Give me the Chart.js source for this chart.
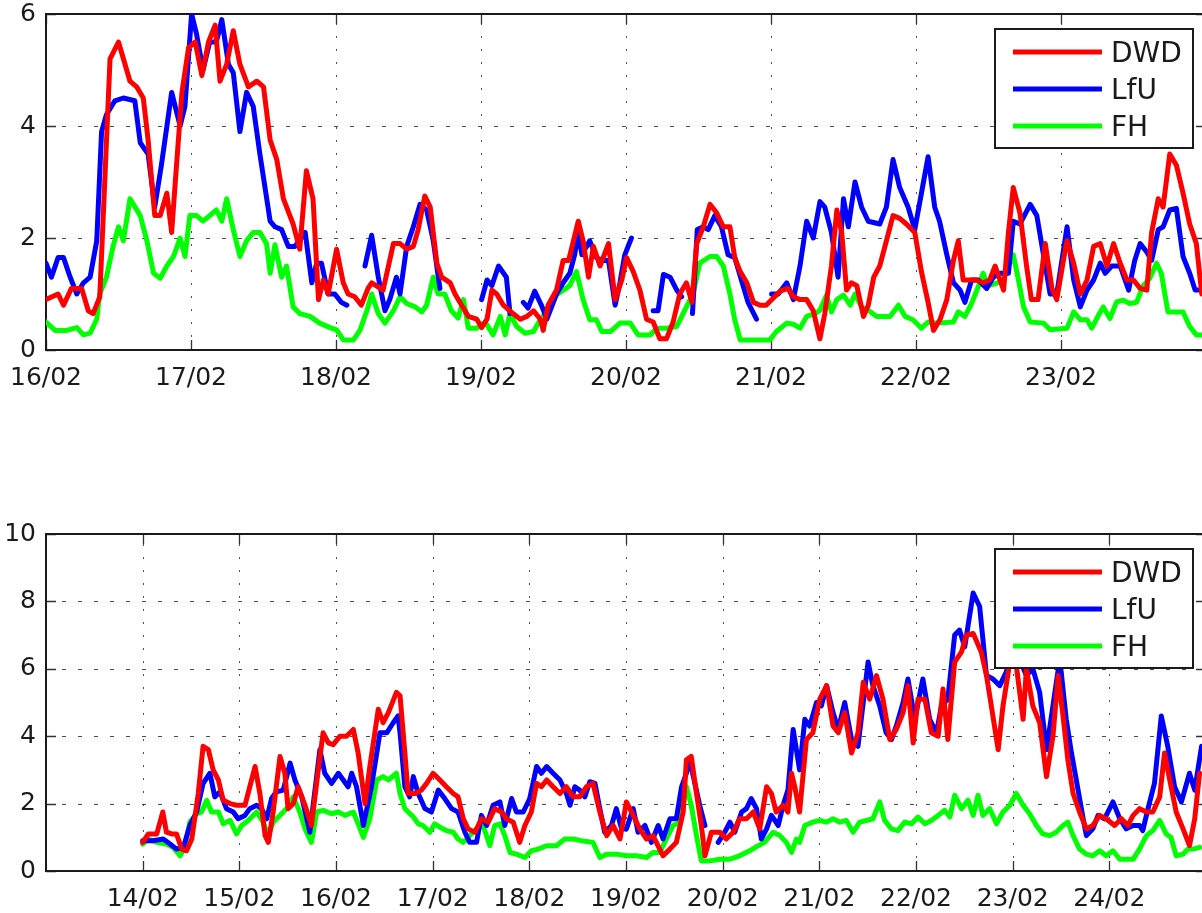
<!DOCTYPE html>
<html>
<head>
<meta charset="utf-8">
<script src="https://cdn.jsdelivr.net/npm/chart.js@4.4.0/dist/chart.umd.min.js"></script>
<style>
  html, body { margin: 0; padding: 0; background: #fff; width: 1202px; height: 913px; overflow: hidden; }
  canvas { position: absolute; left: 0; display: block; }
  #topChart { top: 0; }
  #bottomChart { top: 520px; }
</style>
</head>
<body>
<canvas id="topChart" width="1208" height="400"></canvas>
<canvas id="bottomChart" width="1208" height="393"></canvas>
<script>
// Series names and colours
const seriesNames = ['DWD', 'LfU', 'FH'];
const seriesColors = ['#ff0000', '#0000ff', '#00ff00'];

// ---- Upper panel: hours since 16/02 00:00 ----
const topDayLabels = ['16/02', '17/02', '18/02', '19/02', '20/02', '21/02', '22/02', '23/02'];
const topYTicks = [0, 2, 4, 6];

const dwdTopHours = [0,2.0,2.9,4.2,5.9,7.0,7.8,8.9,10.6,12.0,13.9,15.0,16.1,16.9,18.0,18.9,20.0,20.8,21.4,22.5,23.6,24.7,25.8,26.9,28.0,28.8,29.9,31.0,32.1,33.5,34.9,36.0,37.1,38.2,39.3,40.9,42.0,43.1,44.2,45.1,45.9,46.7,48.1,49.2,50.0,51.1,52.2,53.3,53.9,55.8,57.5,
  58.6,59.7,60.8,61.6,62.7,63.6,64.7,65.5,66.9,67.7,68.8,69.9,71.3,72.1,73.0,73.8,74.6,75.7,77.3,78.5,79.6,80.7,81.8,82.3,83.1,84.5,85.6,86.5,87.3,88.1,88.9,89.8,90.6,91.7,93.1,94.2,95.3,96.1,97.2,98.3,99.4,100.5,101.6,102.7,103.8,104.9,106.0,106.9,107.7,108.8,109.9,111.0,112.1,113.2,114.0,114.9,116.0,117.1,118.2,119.2,121.5,122.8,123.7,
  124.8,125.9,127.0,128.1,128.9,130.0,130.9,131.7,132.5,133.3,134.2,135.3,136.1,137.0,138.0,139.1,140.2,141.3,142.4,143.8,144.9,146.0,146.9,148.0,149.1,150.2,151.0,151.8,154.0,155.1,156.2,157.1,157.9,158.5,159.3,160.1,161.2,162.3,163.1,164.2,165.4,166.5,167.3,168.4,169.0,170.1,171.2,172.3,173.4,174.5,175.6,176.7,177.8,178.9,180.0,181.1,182.2,183.0,184.1,184.9,186.0,187.1,188.2,189.3,190.4,191.3];
const dwdTop = [0.9,1.0,0.8,1.1,1.1,0.7,0.65,0.95,5.2,5.5,4.8,4.7,4.5,3.75,2.4,2.4,2.8,2.1,3.0,4.6,5.4,5.5,4.9,5.5,5.8,4.8,5.1,5.7,5.1,4.7,4.8,4.7,3.75,3.4,2.7,2.25,1.8,3.2,2.7,0.9,1.25,1.0,1.8,1.2,1.0,0.95,0.8,1.1,1.2,1.07,1.9,
  1.9,1.8,1.85,2.15,2.75,2.55,1.55,1.3,1.2,1.0,0.8,0.6,0.55,0.4,0.55,1.07,1.0,0.8,0.65,0.55,0.6,0.7,0.55,0.35,0.8,1.07,1.6,1.6,1.95,2.3,1.95,1.3,1.85,1.5,1.9,0.9,1.25,1.65,1.4,1.07,0.55,0.5,0.2,0.2,0.5,1.0,1.2,0.85,1.9,2.2,2.6,2.45,2.2,2.2,1.65,1.4,1.2,0.85,0.8,0.8,1.05,1.1,0.95,
  0.9,0.9,0.7,0.2,0.65,1.5,2.5,2.1,1.07,1.2,1.15,0.6,0.8,1.3,1.5,1.95,2.4,2.35,2.25,2.1,1.4,0.85,0.35,0.55,0.9,1.6,1.95,1.25,1.25,1.2,1.25,1.5,1.25,1.07,2.1,2.9,2.45,1.5,0.9,0.9,1.9,1.1,0.9,1.6,1.95,1.55,1.0,1.25,1.85,1.9,1.5,1.9,1.55,1.25,1.25,1.1,1.07,2.1,2.7,2.55,3.5,3.3,2.8,2.25,1.9,1.0];

const lfuTopHours = [0,0.9,2.0,2.9,4.0,5.1,6.2,7.3,8.4,9.2,10.0,11.4,12.8,14.7,15.6,16.9,18.0,19.1,20.8,22.2,23.0,24.1,24.9,26.0,27.1,28.2,29.1,30.2,31.0,32.1,33.2,34.3,35.4,37.1,37.9,39.0,40.1,41.2,42.9,44.0,44.8,45.6,46.7,47.8,48.9,49.8,
  51.0,
  52.8,53.9,55.0,56.1,56.9,58.0,58.6,59.7,60.8,61.9,63.0,64.1,65.2,
  66.0,
  72.1,73.0,73.8,74.9,76.2,76.8,
  78.0,
  79.0,79.8,80.9,82.0,82.9,84.5,85.6,86.7,87.5,88.1,88.7,90.0,91.1,92.0,93.1,94.2,95.0,95.8,96.9,
  99.0,
  100.5,101.3,102.2,103.3,104.4,105.2,
  106.0,
  107.0,107.8,108.8,109.6,110.7,111.8,112.9,114.0,115.1,116.2,117.6,
  119.0,
  120.1,121.2,122.6,123.7,124.8,125.9,127.0,128.1,128.9,130.0,131.1,132.0,132.8,133.9,135.0,136.1,138.0,139.1,140.2,141.3,142.7,143.8,144.9,146.0,147.1,147.9,149.1,150.2,151.3,152.1,153.2,154.3,155.7,156.8,157.9,159.3,160.1,161.2,162.9,164.0,165.1,166.2,167.3,169.0,170.1,171.2,172.3,173.4,174.5,175.3,176.4,177.8,179.2,180.2,181.1,182.2,183.0,184.1,184.9,186.0,187.1,188.2,189.3,190.2,191.3];
const lfuTop = [1.55,1.3,1.65,1.65,1.3,1.0,1.2,1.3,1.95,3.9,4.2,4.45,4.5,4.45,3.7,3.5,2.55,3.3,4.6,4.0,4.35,6.0,5.65,5.0,5.5,5.5,5.9,5.1,4.95,3.9,4.6,4.35,3.5,2.3,2.2,2.15,1.85,1.85,2.1,1.2,1.55,1.55,1.0,1.0,0.85,0.8,
  null,
  1.5,2.05,1.3,0.7,0.9,1.3,1.0,1.85,2.2,2.6,2.5,1.95,1.1,
  null,
  0.9,1.25,1.15,1.5,1.3,0.65,
  null,
  0.85,0.75,1.05,0.8,0.55,1.0,1.2,1.37,1.7,2.1,1.7,1.95,1.65,1.6,1.6,0.8,1.2,1.7,2.0,
  null,
  0.7,0.7,1.35,1.3,1.07,0.95,
  null,
  0.65,2.15,2.2,2.15,2.4,2.2,1.7,1.65,1.25,0.85,0.55,
  null,
  1.0,1.0,1.2,0.9,1.5,2.3,2.0,2.65,2.55,2.1,1.3,2.7,2.2,3.0,2.55,2.3,2.25,2.55,3.4,2.9,2.55,2.15,2.8,3.45,2.55,2.3,1.7,1.2,1.07,0.85,1.25,1.25,1.1,1.3,1.37,1.37,2.3,2.25,2.6,2.4,1.7,1.0,1.0,2.2,1.25,0.77,1.07,1.25,1.55,1.37,1.5,1.5,1.07,1.6,1.9,1.75,1.6,2.15,2.2,2.5,2.53,1.67,1.37,1.07,1.07];

const fhTopHours = [0,1.5,3.4,5.1,6.2,7.3,8.4,8.9,10.0,11.1,12.0,12.8,13.9,15.6,16.7,17.8,18.9,20.0,21.1,22.2,23.0,23.8,24.9,26.0,27.1,28.2,29.1,29.9,31.0,32.1,33.2,34.3,35.4,36.5,37.1,37.9,39.0,39.8,40.9,42.0,43.7,45.3,47.0,48.1,49.2,50.9,52.0,53.1,53.9,55.0,56.1,57.5,
  58.6,59.7,61.1,62.2,63.0,64.1,64.9,66.0,67.1,68.2,69.1,69.9,71.3,72.7,74.0,75.2,76.0,76.8,77.9,79.3,80.7,81.8,82.9,84.0,85.6,86.7,87.8,88.9,90.0,91.1,92.0,93.4,95.0,96.7,98.0,100.0,101.1,102.7,104.4,106.0,107.1,108.2,109.9,111.0,112.1,113.2,114.0,114.9,119.8,120.9,122.6,123.7,124.8,
  125.9,127.3,128.1,129.2,130.0,130.9,132.0,133.1,133.9,135.0,136.1,137.5,139.7,141.1,142.2,143.5,144.9,146.0,147.4,150.2,151.0,152.1,153.2,154.3,155.1,155.9,157.3,158.4,159.3,160.1,160.9,161.8,162.9,165.1,166.2,169.0,170.1,171.2,172.3,173.1,174.2,175.0,176.1,177.2,178.3,179.4,180.5,181.6,182.7,183.8,184.6,185.7,188.2,189.3,190.4,191.3];
const fhTop = [0.5,0.35,0.35,0.4,0.27,0.3,0.55,1.0,1.3,1.85,2.2,1.95,2.7,2.4,1.95,1.37,1.28,1.5,1.67,2.0,1.67,2.4,2.4,2.3,2.4,2.5,2.3,2.7,2.15,1.67,1.95,2.1,2.1,1.9,1.37,1.88,1.3,1.5,0.77,0.65,0.6,0.48,0.4,0.36,0.18,0.18,0.36,0.7,1.0,0.65,0.48,0.7,
  0.95,0.83,0.77,0.68,0.8,1.3,1.0,1.0,0.7,0.57,0.9,0.39,0.39,0.5,0.27,0.6,0.27,0.65,0.42,0.3,0.33,0.54,0.7,0.95,1.07,1.15,1.4,0.9,0.54,0.54,0.33,0.33,0.48,0.48,0.27,0.27,0.39,0.39,0.42,0.77,1.0,1.55,1.67,1.67,1.5,1.0,0.54,0.18,0.18,0.33,0.48,0.46,0.39,
  0.6,0.65,0.71,0.98,0.68,0.9,0.98,0.8,1.0,0.77,0.71,0.6,0.6,0.8,0.6,0.54,0.39,0.5,0.48,0.5,0.68,0.6,0.83,1.13,1.37,1.15,1.19,1.25,1.49,1.7,1.28,0.77,0.5,0.48,0.36,0.39,0.68,0.54,0.54,0.39,0.62,0.77,0.56,0.86,0.89,0.83,0.85,1.15,1.28,1.55,1.37,0.68,0.68,0.42,0.27,0.27];

// ---- Lower panel: hours since 13/02 00:00 ----
const bottomDayLabels = ['14/02', '15/02', '16/02', '17/02', '18/02', '19/02', '20/02', '21/02', '22/02', '23/02', '24/02'];
const bottomYTicks = [0, 2, 4, 6, 8, 10];

const dwdBottomHours = [24.0,25.4,27.5,29.0,29.9,31.2,32.4,33.7,34.9,36.2,37.8,39.0,40.3,41.5,42.8,44.0,45.7,47.3,49.4,50.6,51.9,53.1,54.4,55.2,56.4,58.1,59.3,60.1,61.4,62.6,64.3,65.9,67.6,68.8,70.1,71.3,73.0,74.6,76.3,77.5,79.2,80.4,82.5,83.7,85.0,87.0,
  87.9,89.1,89.9,91.6,93.2,94.5,96.1,97.8,99.4,101.1,102.3,103.6,104.8,106.5,108.1,109.8,111.4,113.1,114.3,116.0,117.6,118.9,120.5,121.8,123.0,124.3,125.9,127.6,129.2,130.9,132.5,134.2,135.8,137.5,139.2,140.8,142.5,144.1,145.8,147.4,149.1,150.7,153.2,154.9,156.5,158.2,159.0,160.2,161.5,162.7,163.6,165.2,167.3,168.9,170.6,172.2,173.9,175.6,177.2,178.9,180.1,181.3,183.0,184.2,185.1,185.9,
  187.1,188.0,188.8,190.4,192.1,193.8,195.4,196.7,198.3,200.0,201.6,202.9,204.5,206.2,207.8,209.5,211.1,212.8,214.0,215.3,216.5,218.2,219.8,221.5,222.7,223.9,225.6,227.3,228.5,230.2,232.2,233.5,234.7,236.4,237.6,239.3,240.9,242.6,243.4,245.0,246.7,248.4,250.0,251.3,252.5,253.7,255.0,256.6,258.3,259.9,261.6,263.2,265.3,267.0,268.6,269.9,271.5,273.2,274.8,276.5,277.7,279.0,280.6,282.3,283.9,285.2,286.4];
const dwdBottom = [0.85,1.1,1.1,1.75,1.15,1.1,1.1,0.65,0.6,0.95,2.3,3.7,3.6,3.0,2.7,2.1,2.0,1.95,1.95,2.5,3.1,2.3,1.05,0.85,1.75,3.4,2.9,1.85,2.0,2.5,1.95,1.35,3.0,4.1,3.8,3.75,4.0,4.0,4.2,3.5,2.0,3.1,4.8,4.4,4.7,5.3,
  5.2,3.5,2.3,2.3,2.4,2.6,2.9,2.7,2.5,2.3,2.2,1.55,1.25,1.15,1.55,1.45,1.85,1.75,1.55,1.45,0.85,1.35,1.75,2.6,2.5,2.7,2.5,2.3,2.5,2.2,2.2,2.5,2.6,1.75,1.05,1.35,0.95,2.05,1.65,1.25,0.95,1.05,0.45,0.65,0.85,1.75,3.3,3.4,2.3,1.35,0.45,1.15,1.15,0.95,1.15,1.55,1.55,1.75,1.25,2.5,2.3,1.75,1.95,1.75,2.9,2.5,
  1.75,2.9,3.9,4.1,5.1,5.5,4.3,4.1,4.7,3.5,4.1,5.6,5.1,5.8,5.1,3.9,4.2,4.7,5.5,3.8,5.1,5.1,4.1,4.0,5.4,3.9,6.2,6.5,7.0,7.05,6.5,5.8,4.9,3.6,4.9,6.2,6.1,4.5,6.0,4.9,4.4,2.8,4.0,5.8,4.6,3.3,2.3,1.75,1.25,1.35,1.65,1.55,1.35,1.55,1.35,1.65,1.85,1.75,1.75,2.2,3.5,2.7,1.75,1.25,0.75,1.55,2.9];

const lfuBottomHours = [24.0,26.6,29.1,30.8,32.4,34.1,35.7,37.4,39.0,40.7,41.9,43.2,44.8,46.5,47.7,49.4,50.6,52.3,53.5,54.8,56.0,57.2,58.9,60.6,61.8,63.5,65.5,68.0,69.2,70.9,72.6,73.8,75.0,75.9,77.1,78.8,80.8,82.9,84.6,86.2,87.4,
  87.9,89.1,90.3,91.2,92.4,94.1,95.7,97.4,99.0,100.7,102.3,104.0,105.2,106.9,108.1,109.4,111.0,112.7,113.9,115.6,116.8,118.5,120.1,121.8,123.0,124.3,125.9,127.6,129.2,130.1,131.3,132.5,133.8,135.0,136.3,137.5,138.7,140.4,141.6,142.9,144.1,145.8,147.0,148.7,150.3,152.0,153.2,154.9,156.5,157.8,159.0,159.8,161.1,162.3,163.6,
  165.2,
  166.9,168.5,169.8,171.0,172.7,173.9,175.1,176.4,177.6,178.9,180.1,181.8,183.0,184.2,185.5,
  187.1,188.4,189.6,191.3,192.5,193.8,195.4,196.7,198.3,200.0,201.6,202.9,204.1,205.3,207.0,208.6,209.9,211.1,212.8,214.0,215.7,217.7,219.4,221.1,222.3,223.9,225.6,226.8,228.1,230.2,231.8,233.5,235.1,236.8,238.4,240.1,241.7,243.4,245.0,246.7,248.4,250.0,251.7,253.3,254.6,255.8,257.5,258.3,259.9,261.2,262.8,264.9,266.6,268.2,269.9,271.5,272.3,273.6,275.2,276.9,278.5,280.2,281.9,283.9,285.2,286.9];
const lfuBottom = [0.9,0.9,0.95,0.8,0.65,0.7,1.35,1.75,2.6,2.9,2.2,2.35,1.85,1.75,1.55,1.65,1.85,1.95,1.85,1.55,2.15,2.35,2.4,3.2,2.7,2.2,1.15,3.6,2.9,2.6,2.9,2.7,2.5,2.9,2.5,1.35,2.5,4.1,4.1,4.4,4.6,
  4.1,2.5,2.2,2.8,2.3,1.85,1.75,2.4,2.15,1.85,1.75,1.15,0.85,0.85,1.65,1.35,1.95,2.05,1.35,2.15,1.75,1.75,2.15,3.1,2.9,3.1,2.9,2.7,2.3,1.95,2.5,2.4,2.2,2.65,2.6,1.85,1.15,1.35,1.85,1.25,1.25,1.85,1.15,1.35,0.85,1.35,0.95,1.55,1.55,2.5,2.9,3.3,2.6,1.95,1.35,
  null,
  0.85,1.15,1.45,1.15,1.75,1.85,2.15,1.85,0.95,1.25,1.65,1.35,1.95,2.4,4.2,
  3.0,4.5,4.3,5.0,4.9,5.5,4.7,4.2,5.0,3.9,3.7,5.0,6.2,5.5,4.9,4.1,3.9,4.3,5.0,5.7,4.5,5.7,4.5,4.1,4.9,5.1,7.0,7.15,6.65,8.25,7.85,5.8,5.7,5.5,5.9,6.65,6.3,5.8,6.0,5.3,3.6,4.9,6.3,4.5,3.5,2.7,1.55,1.05,1.25,1.65,1.55,2.05,1.55,1.25,1.35,1.35,1.2,1.85,2.6,4.6,3.7,2.5,2.05,2.9,2.4,3.7];

const fhBottomHours = [24.0,25.4,27.5,29.9,31.6,33.3,34.5,35.7,37.4,38.6,39.9,41.1,42.8,44.0,45.7,47.3,48.6,50.2,52.3,53.9,55.2,56.4,58.1,59.7,61.4,63.0,64.3,65.9,67.2,68.8,70.9,72.6,74.2,76.3,77.5,78.8,80.4,82.1,83.7,85.0,87.0,
  87.9,89.1,91.2,92.4,93.6,95.3,96.5,97.8,99.4,101.1,102.3,103.6,105.2,106.9,108.5,110.2,111.4,112.7,113.9,115.2,116.8,118.9,120.5,122.2,124.3,126.7,128.8,130.9,132.9,135.8,137.5,139.2,141.6,144.1,146.6,149.1,150.7,152.4,154.0,155.7,157.4,159.0,160.2,161.5,162.7,164.8,167.3,169.8,172.2,174.7,176.8,178.4,180.5,182.2,183.8,185.1,186.3,
  187.1,188.4,190.4,192.1,193.8,195.4,197.1,198.7,200.4,202.0,203.7,205.3,207.0,208.2,209.9,211.5,213.2,214.9,216.5,218.2,219.8,221.5,223.1,224.4,225.6,227.3,228.9,230.2,231.4,232.6,234.3,236.0,237.6,239.3,240.9,242.6,244.2,245.9,247.5,249.2,250.8,252.5,253.7,255.0,256.6,258.3,259.9,261.6,263.2,264.9,266.6,268.2,269.9,271.5,273.2,274.8,276.5,278.1,279.3,280.6,282.3,283.5,284.8,286.4];
const fhBottom = [0.8,0.95,0.85,0.8,0.7,0.45,0.7,1.45,1.7,1.75,2.1,1.75,1.75,1.4,1.5,1.1,1.35,1.5,1.75,1.45,1.05,1.45,1.65,1.85,2.2,1.75,1.25,0.85,1.75,1.8,1.7,1.75,1.65,1.75,1.4,1.0,1.55,2.7,2.8,2.7,2.9,
  2.3,1.85,1.6,1.4,1.35,1.15,1.4,1.3,1.2,1.15,0.95,0.85,1.05,1.25,1.35,0.75,1.35,1.4,1.05,0.55,0.5,0.4,0.6,0.65,0.75,0.75,0.95,0.95,0.9,0.85,0.4,0.5,0.5,0.45,0.45,0.4,0.55,0.55,0.95,1.35,1.45,2.5,1.95,1.05,0.3,0.3,0.35,0.35,0.45,0.6,0.75,0.85,1.15,1.05,0.85,0.55,0.95,
  0.85,1.35,1.45,1.5,1.45,1.55,1.45,1.5,1.15,1.45,1.5,1.55,2.05,1.5,1.25,1.2,1.45,1.4,1.6,1.4,1.5,1.65,1.8,1.6,2.25,1.85,2.1,1.65,2.25,1.65,1.85,1.4,1.75,1.95,2.3,1.95,1.7,1.35,1.1,1.05,1.15,1.35,1.45,1.05,0.65,0.5,0.45,0.6,0.45,0.6,0.35,0.35,0.35,0.65,1.05,1.2,1.5,1.1,1.0,0.45,0.5,0.65,0.65,0.7];

// ---- Drawing helpers ----
const FONT = "'DejaVu Sans', 'Liberation Sans', Arial, sans-serif";
const INK = '#1a1a1a';

function toPoints(hours, values) {
  return hours.map((h, i) => ({ x: h, y: values[i] }));
}

// Dotted grid, boxed frame and inward tick marks
const frameGrid = {
  id: 'frameGrid',
  beforeDatasetsDraw(chart) {
    const { ctx, chartArea: a, scales: { x, y } } = chart;
    ctx.save();
    ctx.lineWidth = 1;
    ctx.strokeStyle = 'rgba(60,60,60,0.9)';
    ctx.setLineDash([2, 11]);
    x.ticks.forEach(t => {
      const px = Math.round(x.getPixelForValue(t.value)) + 0.5;
      if (px <= a.left + 2 || px >= a.right - 2) return;
      ctx.beginPath(); ctx.moveTo(px, a.bottom); ctx.lineTo(px, a.top); ctx.stroke();
    });
    ctx.setLineDash([4, 12]);
    y.ticks.forEach(t => {
      const py = Math.round(y.getPixelForValue(t.value)) + 0.5;
      if (py <= a.top + 2 || py >= a.bottom - 2) return;
      ctx.beginPath(); ctx.moveTo(a.left, py); ctx.lineTo(a.right, py); ctx.stroke();
    });
    ctx.setLineDash([]);
    ctx.strokeStyle = '#333';
    ctx.lineWidth = 1.3;
    const tl = 10;
    x.ticks.forEach(t => {
      const px = Math.round(x.getPixelForValue(t.value)) + 0.5;
      ctx.beginPath();
      ctx.moveTo(px, a.bottom); ctx.lineTo(px, a.bottom - tl);
      ctx.moveTo(px, a.top); ctx.lineTo(px, a.top + tl);
      ctx.stroke();
    });
    y.ticks.forEach(t => {
      const py = Math.round(y.getPixelForValue(t.value)) + 0.5;
      ctx.beginPath();
      ctx.moveTo(a.left, py); ctx.lineTo(a.left + tl, py);
      ctx.moveTo(a.right, py); ctx.lineTo(a.right - tl, py);
      ctx.stroke();
    });
    ctx.strokeStyle = INK;
    ctx.lineWidth = 2;
    ctx.strokeRect(a.left, a.top, a.right - a.left, a.bottom - a.top);
    ctx.restore();
  }
};

// Boxed legend in the upper right corner of the plot
const boxLegend = {
  id: 'boxLegend',
  afterDatasetsDraw(chart) {
    const { ctx, chartArea: a } = chart;
    const w = 198, h = 119;
    const left = a.right - 13 - w, top = a.top + 15;
    ctx.save();
    ctx.fillStyle = '#fff';
    ctx.fillRect(left, top, w, h);
    ctx.strokeStyle = INK;
    ctx.lineWidth = 2;
    ctx.strokeRect(left, top, w, h);
    ctx.font = '28px ' + FONT;
    ctx.textBaseline = 'alphabetic';
    chart.data.datasets.forEach((ds, i) => {
      const cy = top + 23 + i * 37;
      ctx.strokeStyle = ds.borderColor;
      ctx.lineWidth = 5;
      ctx.beginPath(); ctx.moveTo(left + 18, cy); ctx.lineTo(left + 107, cy); ctx.stroke();
      ctx.fillStyle = INK;
      ctx.fillText(ds.label, left + 116, cy + 10);
    });
    ctx.restore();
  }
};

function makePanel(canvasId, series, cfg) {
  const datasets = series.map((s, i) => ({
    label: seriesNames[i],
    data: toPoints(s.hours, s.values),
    borderColor: seriesColors[i],
    backgroundColor: seriesColors[i],
    borderWidth: 5,
    pointRadius: 0,
    tension: 0,
    spanGaps: false,
    borderJoinStyle: 'round',
    borderCapStyle: 'round'
  }));
  return new Chart(document.getElementById(canvasId), {
    type: 'line',
    data: { datasets },
    plugins: [frameGrid, boxLegend],
    options: {
      responsive: false,
      animation: false,
      devicePixelRatio: 1,
      layout: { padding: { top: 14, right: 2, left: 0, bottom: 0 } },
      plugins: { legend: { display: false }, tooltip: { enabled: false } },
      scales: {
        x: {
          type: 'linear',
          min: 0,
          max: cfg.xMax,
          grid: { display: false, drawTicks: false },
          border: { display: false },
          afterBuildTicks: sc => { sc.ticks = cfg.dayLabels.map((_, i) => ({ value: (cfg.firstDay + i) * 24 })); },
          afterFit: sc => {
            sc.height = cfg.xAxisHeight;
            sc.paddingLeft = 0; sc.paddingRight = 0;
          },
          ticks: {
            autoSkip: false,
            maxRotation: 0,
            padding: 13,
            color: INK,
            font: { family: FONT, size: 25 },
            callback: v => cfg.dayLabels[Math.round(v / 24) - cfg.firstDay]
          }
        },
        y: {
          min: 0,
          max: cfg.yMax,
          grid: { display: false, drawTicks: false },
          border: { display: false },
          afterBuildTicks: sc => { sc.ticks = cfg.yTicks.map(v => ({ value: v })); },
          afterFit: sc => {
            sc.width = 46;
            sc.paddingTop = 0; sc.paddingBottom = 0;
          },
          ticks: {
            padding: 10,
            color: INK,
            font: { family: FONT, size: 25 },
            callback: v => String(v)
          }
        }
      }
    }
  });
}

makePanel('topChart', [
  { hours: dwdTopHours, values: dwdTop },
  { hours: lfuTopHours, values: lfuTop },
  { hours: fhTopHours, values: fhTop }
], { xMax: 192, yMax: 6, yTicks: topYTicks, dayLabels: topDayLabels, firstDay: 0, xAxisHeight: 50 });

makePanel('bottomChart', [
  { hours: dwdBottomHours, values: dwdBottom },
  { hours: lfuBottomHours, values: lfuBottom },
  { hours: fhBottomHours, values: fhBottom }
], { xMax: 288, yMax: 10, yTicks: bottomYTicks, dayLabels: bottomDayLabels, firstDay: 1, xAxisHeight: 42 });
</script>
</body>
</html>
